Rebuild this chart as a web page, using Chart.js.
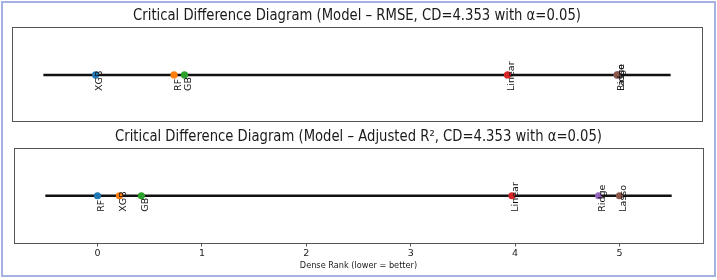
<!DOCTYPE html>
<html>
<head>
<meta charset="utf-8">
<script src="https://cdn.jsdelivr.net/npm/chart.js@4"></script>
<style>
  body { margin: 0; background: #fff; }
  #frame { position: absolute; left: 1px; top: 1px; width: 715px; height: 276px; box-sizing: border-box; border: 2px solid #a4b2e2; }
  canvas { position: absolute; left: 0; }
  #top { top: 0; }
  #bottom { top: 125px; }
</style>
</head>
<body>
<div id="frame"></div>
<canvas id="top" width="717" height="125"></canvas>
<canvas id="bottom" width="717" height="155"></canvas>
<script>
// data
const rmseModels = ["XGB", "RF", "GB", "Linear", "Ridge", "Lasso"];
const rmseRanks = [0, 0.75, 0.85, 3.94, 4.99, 4.99];
const adjR2Models = ["RF", "XGB", "GB", "Linear", "Ridge", "Lasso"];
const adjR2Ranks = [0, 0.21, 0.42, 3.97, 4.8, 5.0];
const tickValues = [0, 1, 2, 3, 4, 5];
const rankLine = [-0.5, 5.5];

const colors = ["#1f77b4", "#ff7f0e", "#2ca02c", "#d62728", "#9467bd", "#8c564b"];
const SQUEEZE = 0.88;
const FONT = "'DejaVu Sans', sans-serif";

// squeezed text, the reference picture is narrowed horizontally
function squeezed(ctx, text, x, y, size) {
  ctx.save();
  ctx.font = size + "px " + FONT;
  ctx.fillStyle = "#1a1a1a";
  ctx.textAlign = "center";
  ctx.textBaseline = "middle";
  ctx.translate(x, y);
  ctx.scale(SQUEEZE, 1);
  ctx.fillText(text, 0, 0);
  ctx.restore();
}

const diagramPlugin = {
  id: "diagram",
  beforeDatasetsDraw(chart, args, opts) {
    const ctx = chart.ctx, a = chart.chartArea;
    ctx.save();
    ctx.strokeStyle = "#555";
    ctx.lineWidth = 1;
    ctx.strokeRect(Math.round(a.left) + 0.5, Math.round(a.top) + 0.5,
      Math.round(a.right - a.left), Math.round(a.bottom - a.top));
    ctx.restore();
  },
  afterDatasetsDraw(chart, args, opts) {
    const ctx = chart.ctx, a = chart.chartArea;
    squeezed(ctx, opts.title, (a.left + a.right) / 2, opts.titleY, 15);
    if (opts.xlabel) squeezed(ctx, opts.xlabel, (a.left + a.right) / 2, opts.xlabelY, 9.3);
    // model names
    ctx.save();
    ctx.font = "9.5px " + FONT;
    ctx.fillStyle = "#111";
    ctx.textAlign = "left";
    ctx.textBaseline = "middle";
    chart.data.datasets.forEach((ds, i) => {
      if (!ds.modelName) return;
      const pt = chart.getDatasetMeta(i).data[0];
      ctx.save();
      ctx.translate(pt.x + 4, pt.y + 16);
      ctx.rotate(-Math.PI / 2);
      ctx.fillText(ds.modelName, 0, 0);
      ctx.restore();
    });
    ctx.restore();
  }
};

function makeChart(id, models, ranks, title, showAxis) {
  const datasets = models.map((m, i) => ({
    modelName: m,
    data: [{ x: ranks[i], y: 0 }],
    backgroundColor: colors[i],
    borderWidth: 0,
    pointRadius: 3.6,
    order: 10 - i
  }));
  datasets.push({
    data: rankLine.map(v => ({ x: v, y: 0 })),
    showLine: true,
    borderColor: "#111",
    borderWidth: 2.5,
    pointRadius: 0,
    order: 100
  });

  const xScale = {
    type: "linear",
    min: -0.8,
    max: 5.8,
    display: showAxis,
    afterBuildTicks: s => { s.ticks = tickValues.map(v => ({ value: v })); },
    border: { display: false },
    grid: { drawOnChartArea: false, drawTicks: true, tickLength: 4, color: "#555" },
    ticks: { padding: 1, color: "#222", font: { family: FONT, size: 9.5 } }
  };
  if (showAxis) xScale.afterFit = s => { s.height = 37.5; };

  return new Chart(document.getElementById(id), {
    type: "scatter",
    data: { datasets },
    plugins: [diagramPlugin],
    options: {
      responsive: false,
      animation: false,
      devicePixelRatio: 1,
      layout: showAxis
        ? { padding: { top: 23, left: 14, right: 14, bottom: 0 } }
        : { padding: { top: 27, left: 12, right: 15, bottom: 4 } },
      plugins: {
        legend: { display: false },
        tooltip: { enabled: false },
        diagram: showAxis
          ? { title, titleY: 12, xlabel: "Dense Rank (lower = better)", xlabelY: 141 }
          : { title, titleY: 16 }
      },
      scales: {
        x: xScale,
        y: showAxis ? { min: -0.98, max: 1, display: false } : { min: -0.96, max: 1, display: false }
      }
    }
  });
}

makeChart("top", rmseModels, rmseRanks,
  "Critical Difference Diagram (Model \u2013 RMSE, CD=4.353 with \u03b1=0.05)", false);
makeChart("bottom", adjR2Models, adjR2Ranks,
  "Critical Difference Diagram (Model \u2013 Adjusted R\u00b2, CD=4.353 with \u03b1=0.05)", true);
</script>
</body>
</html>
